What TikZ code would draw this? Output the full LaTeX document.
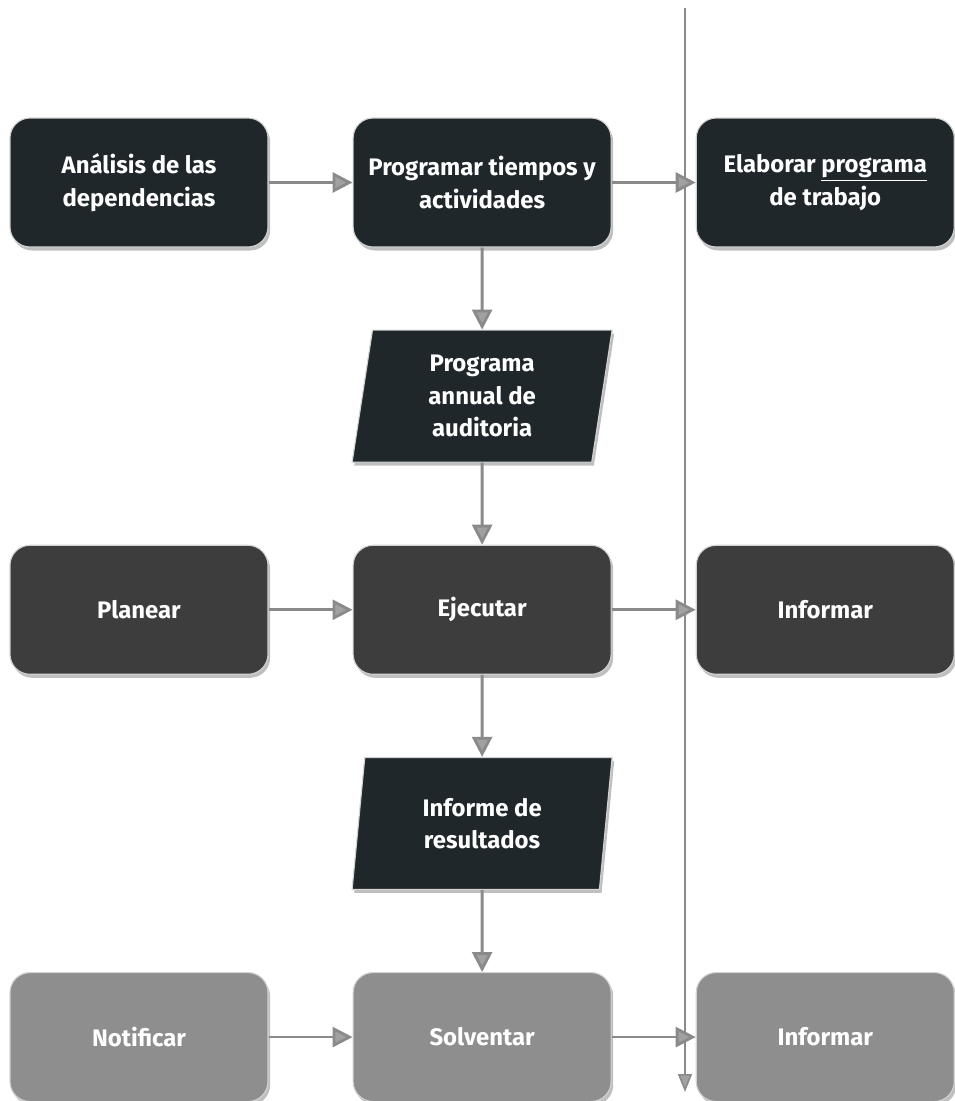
\documentclass[tikz,border=0pt]{standalone}
\usepackage{fontspec}
\setmainfont{Fira Sans}
\usepackage{tikz}
\usetikzlibrary{positioning, shapes.geometric, arrows.meta, shadows}

\definecolor{darkbox}{HTML}{20272A}
\definecolor{midbox}{HTML}{3C3D3C}
\definecolor{lightbox}{HTML}{8E8E8E}
\definecolor{flowline}{HTML}{8A8A8A}

\begin{document}
\begin{tikzpicture}[node distance=2.05cm and 2.1cm,
    every node/.style={font=\fontsize{17}{23}\selectfont\bfseries, text=white},
    stage/.style={rectangle, rounded corners=0.5cm, draw=gray!35, line width=0.8pt, minimum width=6.45cm, minimum height=3.225cm, align=center,
        drop shadow={shadow xshift=1.5pt, shadow yshift=-2.5pt, fill=gray, opacity=0.5}},
    datum/.style={trapezium, trapezium left angle=76, trapezium right angle=104, trapezium stretches body, draw=gray!35, line width=0.8pt, fill=darkbox,
        minimum width=6.5cm, minimum height=3.3cm, align=center, inner sep=0pt,
        drop shadow={shadow xshift=1.5pt, shadow yshift=-2.5pt, fill=gray, opacity=0.5}},
    flow/.style={-{Triangle[length=0.5cm, width=0.5cm, fill=flowline!80]}, draw=flowline, line width=2pt}]
    \useasboundingbox (0,0) rectangle (23.875,-27.525);
    % Define nodes
    \node[stage, fill=darkbox] (analisis) at (3.475,-4.5625) {Análisis de las\\dependencias};
    \node[stage, fill=darkbox, right=of analisis] (programar) {Programar tiempos y\\actividades};
    \node[stage, fill=darkbox, right=of programar] (elaborar) {Elaborar \underline{programa}\\de trabajo};
    \node[datum, below=of programar] (anual) {Programa\\annual de\\auditoria};
    \node[stage, fill=midbox, below=of anual] (ejecutar) {Ejecutar};
    \node[stage, fill=midbox, left=of ejecutar] (planear) {Planear};
    \node[stage, fill=midbox, right=of ejecutar] (informar1) {Informar};
    \node[datum, below=of ejecutar] (informe) {Informe de\\resultados};
    \node[stage, fill=lightbox, below=of informe] (solventar) {Solventar};
    \node[stage, fill=lightbox, left=of solventar] (notificar) {Notificar};
    \node[stage, fill=lightbox, right=of solventar] (informar2) {Informar};
    % divider line
    \coordinate (linetop) at (17.125,-0.2);
    \coordinate (lineend) at (17.125,-27.3);
    \draw[-{Triangle[length=0.45cm, width=0.35cm, fill=flowline!80]}, draw=flowline, line width=1.2pt] (linetop) -- (lineend);
    % connections
    \draw[flow] (analisis) -- (programar);
    \draw[flow] (programar) -- (elaborar);
    \draw[flow] (programar) -- (anual);
    \draw[flow] (anual) -- (ejecutar);
    \draw[flow] (planear) -- (ejecutar);
    \draw[flow] (ejecutar) -- (informar1);
    \draw[flow] (ejecutar) -- (informe);
    \draw[flow] (informe) -- (solventar);
    \draw[flow] (notificar) -- (solventar);
    \draw[flow] (solventar) -- (informar2);
\end{tikzpicture}
\end{document}
